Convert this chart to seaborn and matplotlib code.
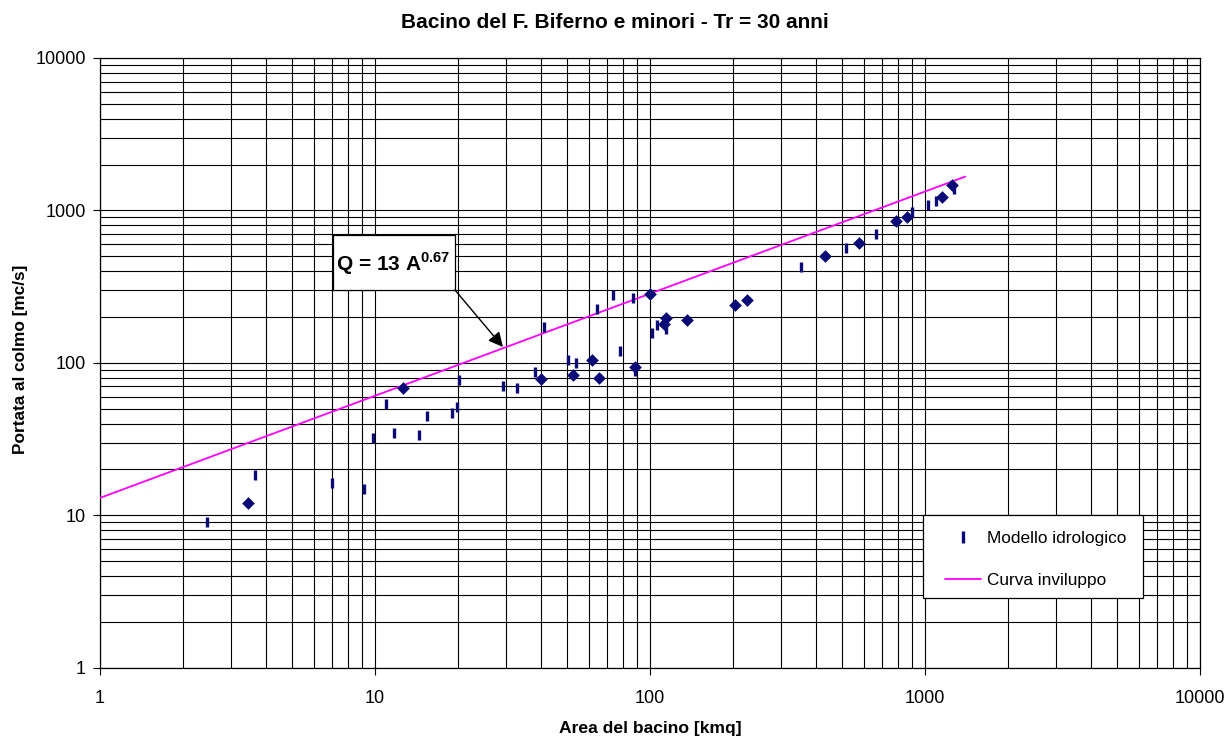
import matplotlib
matplotlib.use("Agg")
import matplotlib.pyplot as plt
import seaborn as sns
import pandas as pd
from matplotlib.lines import Line2D
from matplotlib.patches import Rectangle
from matplotlib.ticker import LogLocator, NullFormatter, FixedLocator, FixedFormatter

# ---- data ----
model_area = [2.44, 3.65, 6.98, 9.15, 9.86, 10.96, 11.75, 14.4, 15.5, 19.0, 19.8, 20.2,
              29.1, 32.7, 38.3, 41.3, 50.2, 53.8, 64.4, 73.6, 77.8, 87.0, 88.0,
              102, 106, 114, 355, 516, 666, 900, 1028, 1093, 1270]
model_q = [9.06, 18.4, 16.4, 14.9, 32.1, 53.6, 34.6, 33.7, 44.5, 46.8, 51.7, 77.4,
           70.0, 68.2, 87.7, 171, 104, 100, 225, 279, 119, 266, 88,
           157, 177, 166, 428, 565, 701, 982, 1087, 1159, 1380]

obs_area = [3.46, 12.6, 40.1, 52.3, 61.6, 65.0, 88.3, 100.3, 112, 114, 136, 204, 225,
            434, 577, 783, 863, 1149, 1250]
obs_q = [12.0, 68.9, 78.2, 83.4, 104, 79.4, 93.7, 283, 180, 196, 191, 240, 259,
         503, 615, 858, 911, 1233, 1469]

env_area = [1, 1400]
env_q = [13, 1667]

tick_values = [1, 10, 100, 1000, 10000]
tick_labels = ["1", "10", "100", "1000", "10000"]

title = "Bacino del F. Biferno e minori - Tr = 30 anni"
xlabel = "Area del bacino [kmq]"
ylabel = "Portata al colmo [mc/s]"

# ---- style ----
sns.set_style("white")
plt.rcParams["font.family"] = ["Liberation Sans", "DejaVu Sans"]
plt.rcParams["mathtext.fontset"] = "custom"
plt.rcParams["mathtext.rm"] = "Liberation Sans"
plt.rcParams["mathtext.bf"] = "Liberation Sans:bold"
plt.rcParams["text.color"] = "black"
plt.rcParams["axes.labelcolor"] = "black"
plt.rcParams["xtick.color"] = "black"
plt.rcParams["ytick.color"] = "black"

navy = "#0b0b78"
magenta = "#ff00ff"

fig = plt.figure(figsize=(12.26, 7.37), dpi=100)
ax = fig.add_axes([100 / 1226, 1 - 667.7 / 737, 1100 / 1226, 609.7 / 737])

df_model = pd.DataFrame({"area": model_area, "q": model_q})
df_obs = pd.DataFrame({"area": obs_area, "q": obs_q})
df_env = pd.DataFrame({"area": env_area, "q": env_q})

sns.lineplot(data=df_env, x="area", y="q", ax=ax, color=magenta, lw=1.3,
             estimator=None, sort=False, zorder=3)
sns.scatterplot(data=df_model, x="area", y="q", ax=ax, marker="|", s=60,
                linewidth=2.4, color=navy, zorder=4)
sns.scatterplot(data=df_obs, x="area", y="q", ax=ax, marker="D", s=42,
                linewidth=0, color=navy, zorder=5)

ax.set_xscale("log")
ax.set_yscale("log")
ax.set_xlim(1, 10000)
ax.set_ylim(1, 10000)

ax.xaxis.set_major_locator(FixedLocator(tick_values))
ax.xaxis.set_major_formatter(FixedFormatter(tick_labels))
ax.yaxis.set_major_locator(FixedLocator(tick_values))
ax.yaxis.set_major_formatter(FixedFormatter(tick_labels))
ax.xaxis.set_minor_locator(LogLocator(base=10, subs=range(2, 10)))
ax.yaxis.set_minor_locator(LogLocator(base=10, subs=range(2, 10)))
ax.xaxis.set_minor_formatter(NullFormatter())
ax.yaxis.set_minor_formatter(NullFormatter())

ax.grid(True, which="both", color="black", lw=0.8)
ax.set_axisbelow(True)
ax.tick_params(axis="both", which="major", direction="out", length=5, width=0.8,
               color="black", labelcolor="black", labelsize=13,
               left=True, bottom=True)
ax.tick_params(axis="x", which="major", pad=11)
ax.tick_params(axis="y", which="major", pad=5)
ax.tick_params(which="minor", length=0)
for sp in ax.spines.values():
    sp.set_color("black")
    sp.set_linewidth(0.9)

ax.set_xlabel(xlabel, fontsize=12.6, fontweight="bold", va="center", color="black")
ax.xaxis.set_label_coords(0.5, -0.1005)
ax.set_ylabel(ylabel, fontsize=12.4, fontweight="bold", va="center", color="black")
ax.yaxis.set_label_coords(-0.0727, 0.505)

fig.text(615 / 1226, 1 - 22 / 737, title, ha="center", va="center",
         fontsize=15, fontweight="bold", color="black")

# annotation box with formula
ax.add_patch(Rectangle((0.2118, 0.6195), 0.1109, 0.0902, transform=ax.transAxes,
                       facecolor="white", edgecolor="black", lw=0.9, zorder=6))
ax.text(0.2664, 0.6625, r"Q = 13 A$^{\mathbf{0.67}}$", transform=ax.transAxes,
        ha="center", va="center", fontsize=15, fontweight="bold", color="black",
        zorder=7)
ax.annotate("", xy=(29.2, 127), xycoords="data", xytext=(0.3227, 0.6195),
            textcoords="axes fraction",
            arrowprops=dict(arrowstyle="-|>", color="black", lw=1.0,
                            mutation_scale=22, shrinkA=0, shrinkB=0), zorder=7)

# legend: frame drawn as a rectangle, entries placed inside
ax.add_patch(Rectangle((0.748, 0.114), 0.2, 0.136, transform=ax.transAxes,
                       facecolor="white", edgecolor="black", lw=0.9, zorder=7.5))
handles = [Line2D([], [], marker="|", linestyle="none", color=navy, markersize=8,
                  markeredgewidth=2.4),
           Line2D([], [], color=magenta, lw=1.3)]
leg = ax.legend(handles, ["Modello idrologico", "Curva inviluppo"],
                loc="center left", bbox_to_anchor=(0.7682, 0.177),
                frameon=False, fontsize=12.4, handlelength=2.1,
                labelspacing=1.55, borderpad=0, handletextpad=0.35,
                borderaxespad=0)
for t in leg.get_texts():
    t.set_color("black")
leg.set_zorder(8)

fig.savefig("out.png", dpi=100)
